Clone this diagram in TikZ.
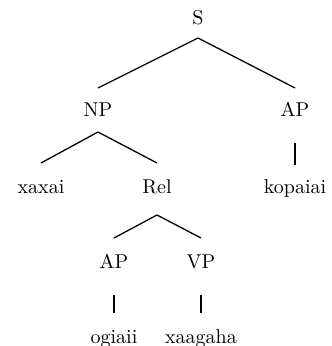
\documentclass[tikz,border=0pt]{standalone}
\begin{document}
\begin{tikzpicture}[x=0.5pt,y=-0.5pt,
  lbl/.style={anchor=base,inner sep=0pt,font=\fontsize{10}{12}\selectfont},
  edge/.style={line width=0.65pt}]
\useasboundingbox (0,0) rectangle (331,346);
\node[lbl] (S) at (198,25) {S};
\node[lbl] (NP) at (98,117) {NP};
\node[lbl] (AP) at (295,117) {AP};
\node[lbl] (xaxai) at (41,194) {xaxai};
\node[lbl] (Rel) at (157,194) {Rel};
\node[lbl] (kopaiai) at (295,194) {kopaiai};
\node[lbl] (APb) at (114,268) {AP};
\node[lbl] (VP) at (201,268) {VP};
\node[lbl] (ogiaii) at (114,343) {ogiaii};
\node[lbl] (xaagaha) at (201,343) {xaagaha};
\draw[edge] ([yshift=-6.5pt]S.base) -- ([yshift=14.5pt]NP.base);
\draw[edge] ([yshift=-6.5pt]S.base) -- ([yshift=14.5pt]AP.base);
\draw[edge] ([yshift=-7.5pt]NP.base) -- ([yshift=15.5pt]xaxai.base);
\draw[edge] ([yshift=-7.5pt]NP.base) -- ([yshift=15.5pt]Rel.base);
\draw[edge] ([yshift=-13pt]AP.base) -- ([yshift=14.5pt]kopaiai.base);
\draw[edge] ([yshift=-10.5pt]Rel.base) -- ([yshift=15pt]APb.base);
\draw[edge] ([yshift=-10.5pt]Rel.base) -- ([yshift=15pt]VP.base);
\draw[edge] ([yshift=-13.5pt]APb.base) -- ([yshift=15pt]ogiaii.base);
\draw[edge] ([yshift=-13.5pt]VP.base) -- ([yshift=15pt]xaagaha.base);
\end{tikzpicture}
\end{document}
